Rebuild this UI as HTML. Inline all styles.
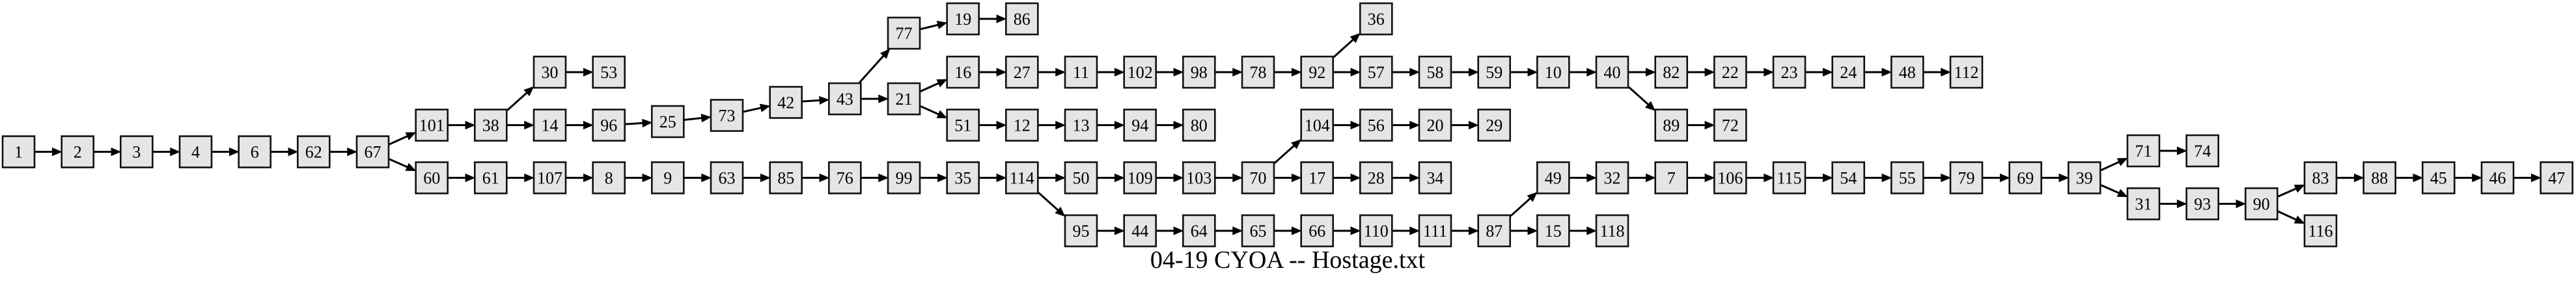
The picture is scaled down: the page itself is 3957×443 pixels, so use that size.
<!DOCTYPE html>
<html><head><meta charset="utf-8"><style>
html,body{margin:0;padding:0;background:#fff;}
svg{display:block;}
.n rect{fill:#e5e5e5;stroke:#111;stroke-width:2.6;}
.n text{font-family:"Liberation Serif",serif;font-size:26px;text-anchor:middle;fill:#000;}
</style></head><body>
<svg id="s" width="3957" height="443" viewBox="0 0 3957 443" xmlns="http://www.w3.org/2000/svg">
<g id="edges"></g>
<g id="nodes">
<g class="n" id="n1" transform="translate(4,209.5)"><rect width="49" height="48"/><text x="24.5" y="33">1</text></g>
<g class="n" id="n2" transform="translate(94.7,209.5)"><rect width="49" height="48"/><text x="24.5" y="33">2</text></g>
<g class="n" id="n3" transform="translate(185.3,209.5)"><rect width="49" height="48"/><text x="24.5" y="33">3</text></g>
<g class="n" id="n4" transform="translate(276,209.5)"><rect width="49" height="48"/><text x="24.5" y="33">4</text></g>
<g class="n" id="n6" transform="translate(366.7,209.5)"><rect width="49" height="48"/><text x="24.5" y="33">6</text></g>
<g class="n" id="n62" transform="translate(457.3,209.5)"><rect width="49" height="48"/><text x="24.5" y="33">62</text></g>
<g class="n" id="n67" transform="translate(548,209.5)"><rect width="49" height="48"/><text x="24.5" y="33">67</text></g>
<g class="n" id="n101" transform="translate(638.7,168.5)"><rect width="49" height="48"/><text x="24.5" y="33">101</text></g>
<g class="n" id="n60" transform="translate(638.7,249.5)"><rect width="49" height="48"/><text x="24.5" y="33">60</text></g>
<g class="n" id="n38" transform="translate(729.3,168.5)"><rect width="49" height="48"/><text x="24.5" y="33">38</text></g>
<g class="n" id="n61" transform="translate(729.3,249.5)"><rect width="49" height="48"/><text x="24.5" y="33">61</text></g>
<g class="n" id="n30" transform="translate(820,87)"><rect width="49" height="48"/><text x="24.5" y="33">30</text></g>
<g class="n" id="n14" transform="translate(820,168.5)"><rect width="49" height="48"/><text x="24.5" y="33">14</text></g>
<g class="n" id="n107" transform="translate(820,249.5)"><rect width="49" height="48"/><text x="24.5" y="33">107</text></g>
<g class="n" id="n53" transform="translate(910.7,87)"><rect width="49" height="48"/><text x="24.5" y="33">53</text></g>
<g class="n" id="n96" transform="translate(910.7,168.5)"><rect width="49" height="48"/><text x="24.5" y="33">96</text></g>
<g class="n" id="n8" transform="translate(910.7,249.5)"><rect width="49" height="48"/><text x="24.5" y="33">8</text></g>
<g class="n" id="n25" transform="translate(1001.3,163)"><rect width="49" height="48"/><text x="24.5" y="33">25</text></g>
<g class="n" id="n9" transform="translate(1001.3,249.5)"><rect width="49" height="48"/><text x="24.5" y="33">9</text></g>
<g class="n" id="n73" transform="translate(1092,153.5)"><rect width="49" height="48"/><text x="24.5" y="33">73</text></g>
<g class="n" id="n63" transform="translate(1092,249.5)"><rect width="49" height="48"/><text x="24.5" y="33">63</text></g>
<g class="n" id="n42" transform="translate(1182.7,133.5)"><rect width="49" height="48"/><text x="24.5" y="33">42</text></g>
<g class="n" id="n85" transform="translate(1182.7,249.5)"><rect width="49" height="48"/><text x="24.5" y="33">85</text></g>
<g class="n" id="n43" transform="translate(1273.3,128)"><rect width="49" height="48"/><text x="24.5" y="33">43</text></g>
<g class="n" id="n76" transform="translate(1273.3,249.5)"><rect width="49" height="48"/><text x="24.5" y="33">76</text></g>
<g class="n" id="n77" transform="translate(1364,27)"><rect width="49" height="48"/><text x="24.5" y="33">77</text></g>
<g class="n" id="n21" transform="translate(1364,128)"><rect width="49" height="48"/><text x="24.5" y="33">21</text></g>
<g class="n" id="n99" transform="translate(1364,249.5)"><rect width="49" height="48"/><text x="24.5" y="33">99</text></g>
<g class="n" id="n19" transform="translate(1454.7,5)"><rect width="49" height="48"/><text x="24.5" y="33">19</text></g>
<g class="n" id="n16" transform="translate(1454.7,87)"><rect width="49" height="48"/><text x="24.5" y="33">16</text></g>
<g class="n" id="n51" transform="translate(1454.7,168.5)"><rect width="49" height="48"/><text x="24.5" y="33">51</text></g>
<g class="n" id="n35" transform="translate(1454.7,249.5)"><rect width="49" height="48"/><text x="24.5" y="33">35</text></g>
<g class="n" id="n86" transform="translate(1545.3,5)"><rect width="49" height="48"/><text x="24.5" y="33">86</text></g>
<g class="n" id="n27" transform="translate(1545.3,87)"><rect width="49" height="48"/><text x="24.5" y="33">27</text></g>
<g class="n" id="n12" transform="translate(1545.3,168.5)"><rect width="49" height="48"/><text x="24.5" y="33">12</text></g>
<g class="n" id="n114" transform="translate(1545.3,249.5)"><rect width="49" height="48"/><text x="24.5" y="33">114</text></g>
<g class="n" id="n11" transform="translate(1636,87)"><rect width="49" height="48"/><text x="24.5" y="33">11</text></g>
<g class="n" id="n13" transform="translate(1636,168.5)"><rect width="49" height="48"/><text x="24.5" y="33">13</text></g>
<g class="n" id="n50" transform="translate(1636,249.5)"><rect width="49" height="48"/><text x="24.5" y="33">50</text></g>
<g class="n" id="n95" transform="translate(1636,331)"><rect width="49" height="48"/><text x="24.5" y="33">95</text></g>
<g class="n" id="n102" transform="translate(1726.7,87)"><rect width="49" height="48"/><text x="24.5" y="33">102</text></g>
<g class="n" id="n94" transform="translate(1726.7,168.5)"><rect width="49" height="48"/><text x="24.5" y="33">94</text></g>
<g class="n" id="n109" transform="translate(1726.7,249.5)"><rect width="49" height="48"/><text x="24.5" y="33">109</text></g>
<g class="n" id="n44" transform="translate(1726.7,331)"><rect width="49" height="48"/><text x="24.5" y="33">44</text></g>
<g class="n" id="n98" transform="translate(1817.3,87)"><rect width="49" height="48"/><text x="24.5" y="33">98</text></g>
<g class="n" id="n80" transform="translate(1817.3,168.5)"><rect width="49" height="48"/><text x="24.5" y="33">80</text></g>
<g class="n" id="n103" transform="translate(1817.3,249.5)"><rect width="49" height="48"/><text x="24.5" y="33">103</text></g>
<g class="n" id="n64" transform="translate(1817.3,331)"><rect width="49" height="48"/><text x="24.5" y="33">64</text></g>
<g class="n" id="n78" transform="translate(1908,87)"><rect width="49" height="48"/><text x="24.5" y="33">78</text></g>
<g class="n" id="n70" transform="translate(1908,249.5)"><rect width="49" height="48"/><text x="24.5" y="33">70</text></g>
<g class="n" id="n65" transform="translate(1908,331)"><rect width="49" height="48"/><text x="24.5" y="33">65</text></g>
<g class="n" id="n92" transform="translate(1998.7,87)"><rect width="49" height="48"/><text x="24.5" y="33">92</text></g>
<g class="n" id="n104" transform="translate(1998.7,168.5)"><rect width="49" height="48"/><text x="24.5" y="33">104</text></g>
<g class="n" id="n17" transform="translate(1998.7,249.5)"><rect width="49" height="48"/><text x="24.5" y="33">17</text></g>
<g class="n" id="n66" transform="translate(1998.7,331)"><rect width="49" height="48"/><text x="24.5" y="33">66</text></g>
<g class="n" id="n36" transform="translate(2089.3,5)"><rect width="49" height="48"/><text x="24.5" y="33">36</text></g>
<g class="n" id="n57" transform="translate(2089.3,87)"><rect width="49" height="48"/><text x="24.5" y="33">57</text></g>
<g class="n" id="n56" transform="translate(2089.3,168.5)"><rect width="49" height="48"/><text x="24.5" y="33">56</text></g>
<g class="n" id="n28" transform="translate(2089.3,249.5)"><rect width="49" height="48"/><text x="24.5" y="33">28</text></g>
<g class="n" id="n110" transform="translate(2089.3,331)"><rect width="49" height="48"/><text x="24.5" y="33">110</text></g>
<g class="n" id="n58" transform="translate(2180,87)"><rect width="49" height="48"/><text x="24.5" y="33">58</text></g>
<g class="n" id="n20" transform="translate(2180,168.5)"><rect width="49" height="48"/><text x="24.5" y="33">20</text></g>
<g class="n" id="n34" transform="translate(2180,249.5)"><rect width="49" height="48"/><text x="24.5" y="33">34</text></g>
<g class="n" id="n111" transform="translate(2180,331)"><rect width="49" height="48"/><text x="24.5" y="33">111</text></g>
<g class="n" id="n59" transform="translate(2270.7,87)"><rect width="49" height="48"/><text x="24.5" y="33">59</text></g>
<g class="n" id="n29" transform="translate(2270.7,168.5)"><rect width="49" height="48"/><text x="24.5" y="33">29</text></g>
<g class="n" id="n87" transform="translate(2270.7,331)"><rect width="49" height="48"/><text x="24.5" y="33">87</text></g>
<g class="n" id="n10" transform="translate(2361.3,87)"><rect width="49" height="48"/><text x="24.5" y="33">10</text></g>
<g class="n" id="n49" transform="translate(2361.3,249.5)"><rect width="49" height="48"/><text x="24.5" y="33">49</text></g>
<g class="n" id="n15" transform="translate(2361.3,331)"><rect width="49" height="48"/><text x="24.5" y="33">15</text></g>
<g class="n" id="n40" transform="translate(2452,87)"><rect width="49" height="48"/><text x="24.5" y="33">40</text></g>
<g class="n" id="n32" transform="translate(2452,249.5)"><rect width="49" height="48"/><text x="24.5" y="33">32</text></g>
<g class="n" id="n118" transform="translate(2452,331)"><rect width="49" height="48"/><text x="24.5" y="33">118</text></g>
<g class="n" id="n82" transform="translate(2542.7,87)"><rect width="49" height="48"/><text x="24.5" y="33">82</text></g>
<g class="n" id="n89" transform="translate(2542.7,168.5)"><rect width="49" height="48"/><text x="24.5" y="33">89</text></g>
<g class="n" id="n7" transform="translate(2542.7,249.5)"><rect width="49" height="48"/><text x="24.5" y="33">7</text></g>
<g class="n" id="n22" transform="translate(2633.3,87)"><rect width="49" height="48"/><text x="24.5" y="33">22</text></g>
<g class="n" id="n72" transform="translate(2633.3,168.5)"><rect width="49" height="48"/><text x="24.5" y="33">72</text></g>
<g class="n" id="n106" transform="translate(2633.3,249.5)"><rect width="49" height="48"/><text x="24.5" y="33">106</text></g>
<g class="n" id="n23" transform="translate(2724,87)"><rect width="49" height="48"/><text x="24.5" y="33">23</text></g>
<g class="n" id="n115" transform="translate(2724,249.5)"><rect width="49" height="48"/><text x="24.5" y="33">115</text></g>
<g class="n" id="n24" transform="translate(2814.7,87)"><rect width="49" height="48"/><text x="24.5" y="33">24</text></g>
<g class="n" id="n54" transform="translate(2814.7,249.5)"><rect width="49" height="48"/><text x="24.5" y="33">54</text></g>
<g class="n" id="n48" transform="translate(2905.3,87)"><rect width="49" height="48"/><text x="24.5" y="33">48</text></g>
<g class="n" id="n55" transform="translate(2905.3,249.5)"><rect width="49" height="48"/><text x="24.5" y="33">55</text></g>
<g class="n" id="n112" transform="translate(2996,87)"><rect width="49" height="48"/><text x="24.5" y="33">112</text></g>
<g class="n" id="n79" transform="translate(2996,249.5)"><rect width="49" height="48"/><text x="24.5" y="33">79</text></g>
<g class="n" id="n69" transform="translate(3086.7,249.5)"><rect width="49" height="48"/><text x="24.5" y="33">69</text></g>
<g class="n" id="n39" transform="translate(3177.3,249.5)"><rect width="49" height="48"/><text x="24.5" y="33">39</text></g>
<g class="n" id="n71" transform="translate(3268,208)"><rect width="49" height="48"/><text x="24.5" y="33">71</text></g>
<g class="n" id="n31" transform="translate(3268,289.5)"><rect width="49" height="48"/><text x="24.5" y="33">31</text></g>
<g class="n" id="n74" transform="translate(3358.7,208)"><rect width="49" height="48"/><text x="24.5" y="33">74</text></g>
<g class="n" id="n93" transform="translate(3358.7,289.5)"><rect width="49" height="48"/><text x="24.5" y="33">93</text></g>
<g class="n" id="n90" transform="translate(3449.3,289.5)"><rect width="49" height="48"/><text x="24.5" y="33">90</text></g>
<g class="n" id="n83" transform="translate(3540,249.5)"><rect width="49" height="48"/><text x="24.5" y="33">83</text></g>
<g class="n" id="n116" transform="translate(3540,331)"><rect width="49" height="48"/><text x="24.5" y="33">116</text></g>
<g class="n" id="n88" transform="translate(3630.7,249.5)"><rect width="49" height="48"/><text x="24.5" y="33">88</text></g>
<g class="n" id="n45" transform="translate(3721.3,249.5)"><rect width="49" height="48"/><text x="24.5" y="33">45</text></g>
<g class="n" id="n46" transform="translate(3812,249.5)"><rect width="49" height="48"/><text x="24.5" y="33">46</text></g>
<g class="n" id="n47" transform="translate(3902.7,249.5)"><rect width="49" height="48"/><text x="24.5" y="33">47</text></g>
</g>
<text x="1978" y="412" font-family="Liberation Serif, serif" font-size="38" text-anchor="middle">04-19 CYOA -- Hostage.txt</text>
</svg>
<script>
(function(){
var E="1-2,2-3,3-4,4-6,6-62,62-67,67-101,67-60,101-38,38-30,38-14,30-53,14-96,96-25,25-73,73-42,42-43,43-77,43-21,77-19,19-86,21-16,21-51,16-27,27-11,11-102,102-98,98-78,78-92,92-36,92-57,57-58,58-59,59-10,10-40,40-82,40-89,82-22,22-23,23-24,24-48,48-112,89-72,51-12,12-13,13-94,94-80,60-61,61-107,107-8,8-9,9-63,63-85,85-76,76-99,99-35,35-114,114-50,114-95,50-109,109-103,103-70,70-104,70-17,104-56,56-20,20-29,17-28,28-34,95-44,44-64,64-65,65-66,66-110,110-111,111-87,87-49,87-15,15-118,49-32,32-7,7-106,106-115,115-54,54-55,55-79,79-69,69-39,39-71,39-31,71-74,31-93,93-90,90-83,90-116,83-88,88-45,45-46,46-47".split(",");
var NS="http://www.w3.org/2000/svg",g=document.getElementById("edges");
function pos(id){var t=document.getElementById("n"+id).getAttribute("transform").match(/[\d.]+/g);return {x:+t[0]+24.5,y:+t[1]+24};}
function clip(c,dx,dy){var hw=25.5,hh=25,s=Math.min(dx?hw/Math.abs(dx):1e9,dy?hh/Math.abs(dy):1e9);return {x:c.x+dx*s,y:c.y+dy*s};}
E.forEach(function(e){var p=e.split("-"),a=pos(p[0]),b=pos(p[1]);var dx=b.x-a.x,dy=b.y-a.y,L=Math.hypot(dx,dy),ux=dx/L,uy=dy/L;
var s=clip(a,ux,uy),t=clip(b,-ux,-uy);var AL=13,AW=5.5;var bx=t.x-ux*AL,by=t.y-uy*AL;
var l=document.createElementNS(NS,"line");l.setAttribute("x1",s.x);l.setAttribute("y1",s.y);l.setAttribute("x2",bx+ux);l.setAttribute("y2",by+uy);l.setAttribute("stroke","#000");l.setAttribute("stroke-width","3");g.appendChild(l);
var pg=document.createElementNS(NS,"polygon");pg.setAttribute("points",t.x+","+t.y+" "+(bx-uy*AW)+","+(by+ux*AW)+" "+(bx+uy*AW)+","+(by-ux*AW));pg.setAttribute("fill","#000");pg.setAttribute("stroke","#000");pg.setAttribute("stroke-width","1.5");g.appendChild(pg);});
})();
</script>
</body></html>
